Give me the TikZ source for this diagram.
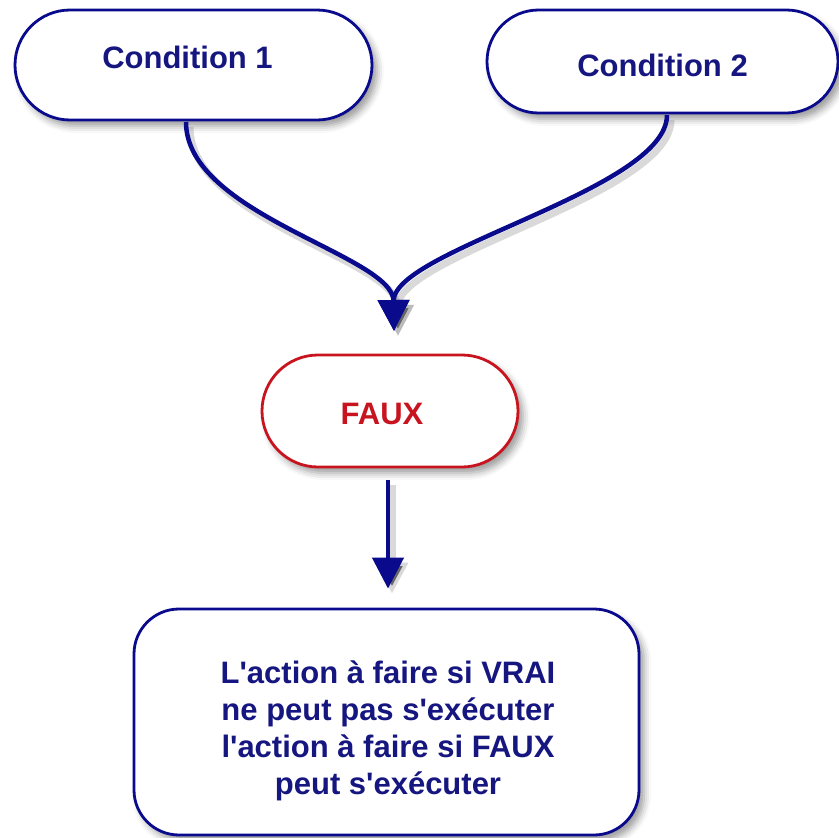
\documentclass[tikz,border=0pt]{standalone}
\usepackage{fontspec}
\setmainfont{Liberation Sans}
\usetikzlibrary{arrows.meta,shadows.blur}
\definecolor{navy}{RGB}{10,10,140}
\definecolor{navytext}{RGB}{22,22,128}
\definecolor{fauxred}{RGB}{200,20,30}
\newcommand{\apos}{\textquotesingle}
\tikzset{
  boxsh/.style={blur shadow={shadow xshift=5pt, shadow yshift=-6pt, shadow blur radius=7pt, shadow opacity=40}},
  pill/.style={draw=navy, line width=2.8pt, fill=white, boxsh, inner sep=0pt,
    text=navytext, font=\bfseries\fontsize{31}{37}\selectfont},
  redpill/.style={pill, draw=fauxred, text=fauxred},
  flow/.style={draw=navy, line width=4.5pt, -{Triangle[width=31pt,length=31pt]},
    preaction={draw=black!60, draw opacity=0.25, line width=7pt,
      transform canvas={xshift=4pt,yshift=-5pt}}},
}
\begin{document}
\begin{tikzpicture}[x=1pt,y=-1pt]
\useasboundingbox (0,0) rectangle (839,838);
% nodes
\node[pill, minimum width=357pt, minimum height=110pt, rounded corners=55pt] (c1) at (193.5,65) {\hspace*{-12pt}\raisebox{-3pt}[0pt][0pt]{Condition 1}};
\node[pill, minimum width=351pt, minimum height=103pt, rounded corners=51.5pt] (c2) at (662.5,61.5) {\raisebox{-14.5pt}[0pt][0pt]{Condition 2}};
\node[redpill, minimum width=256pt, minimum height=112pt, rounded corners=56pt] (faux) at (390,411) {\hspace*{-16pt}\raisebox{-13pt}[0pt][0pt]{FAUX}};
\node[pill, minimum width=505pt, minimum height=226pt, rounded corners=45pt, align=center] (action) at (386.5,722)
  {\hspace*{3pt}\raisebox{-16pt}[0pt][0pt]{\begin{tabular}{c}L\apos action à faire si VRAI\\ne peut pas s\apos exécuter\\l\apos action à faire si FAUX\\peut s\apos exécuter\end{tabular}}};
% connector points
\coordinate (s1) at (186,122);
\coordinate (s2) at (667,115);
\coordinate (merge) at (394,331);
% connectors
\draw[flow] (s1) .. controls (186,215) and (393,255) .. (merge);
\draw[flow] (s2) .. controls (667,190) and (393,250) .. (merge);
\draw[flow] ([xshift=-2pt,yshift=-12pt]faux.south) -- ([xshift=1.5pt,yshift=19pt]action.north);
\end{tikzpicture}
\end{document}
